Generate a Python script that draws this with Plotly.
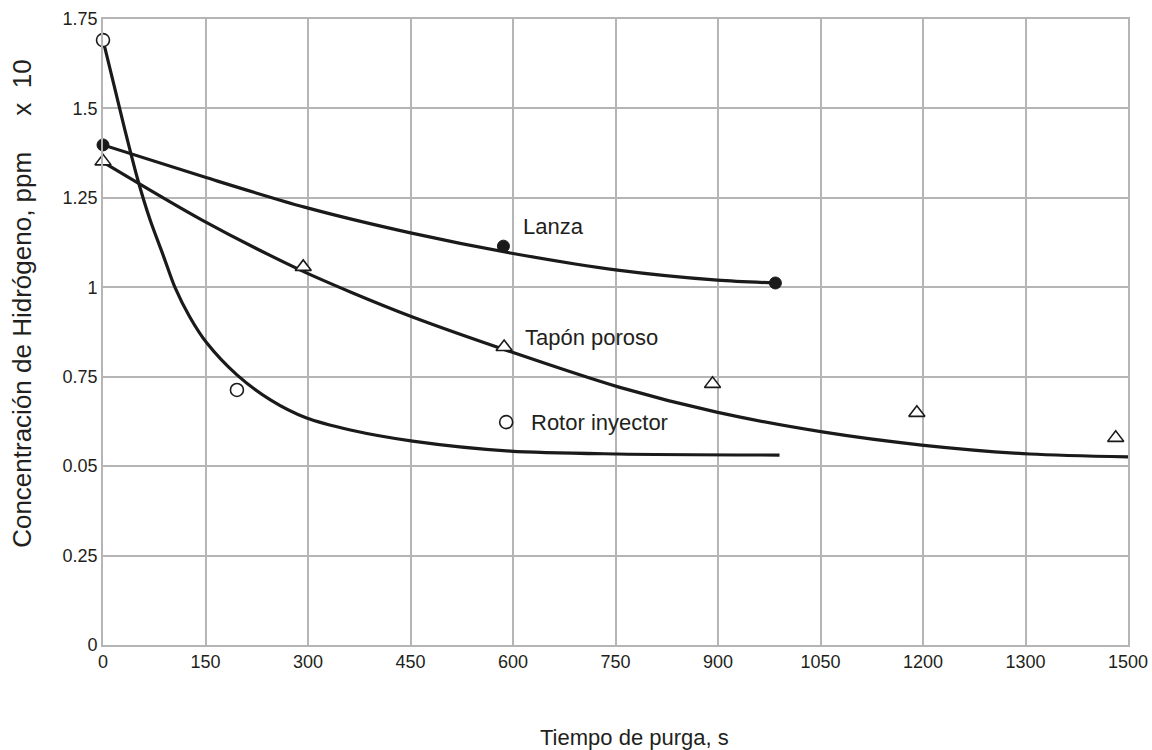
import plotly.graph_objects as go

# ---- data ----
# fitted curves
rotor_curve_x = [0, 16, 32, 51, 69, 88, 105, 127, 152, 196, 245, 297, 362, 453, 596, 753, 990]
rotor_curve_y = [1.691, 1.566, 1.440, 1.300, 1.188, 1.090, 1.001, 0.917, 0.844, 0.755, 0.685, 0.635,
                 0.601, 0.570, 0.542, 0.534, 0.531]

lanza_curve_x = [0, 152, 295, 450, 596, 753, 899, 984]
lanza_curve_y = [1.398, 1.306, 1.224, 1.152, 1.096, 1.048, 1.020, 1.012]

tapon_curve_x = [0, 145, 289, 362, 453, 598, 755, 898, 1055, 1198, 1356, 1500]
tapon_curve_y = [1.350, 1.188, 1.048, 0.987, 0.917, 0.819, 0.721, 0.651, 0.595, 0.559, 0.534, 0.526]

# measured points
rotor_pts_x = [0, 196, 590]
rotor_pts_y = [1.691, 0.713, 0.623]

lanza_pts_x = [0, 586, 984]
lanza_pts_y = [1.398, 1.115, 1.012]

tapon_pts_x = [0, 293, 587, 892, 1191, 1482]
tapon_pts_y = [1.352, 1.057, 0.833, 0.730, 0.649, 0.579]

# axes ticks
x_tickvals = [0, 150, 300, 450, 600, 750, 900, 1050, 1200, 1350, 1500]
x_ticktext = ["0", "150", "300", "450", "600", "750", "900", "1050", "1200", "1300", "1500"]
y_tickvals = [0, 0.25, 0.5, 0.75, 1.0, 1.25, 1.5, 1.75]
y_ticktext = ["0", "0.25", "0.05", "0.75", "1", "1.25", "1.5", "1.75"]

# series labels
labels = ["Lanza", "Tapón poroso", "Rotor inyector"]
label_x = [612, 614, 624]
label_y = [1.169, 0.861, 0.621]

FONT = "Liberation Sans, Arial, sans-serif"
INK = "#231f20"

fig = go.Figure()

line_style = dict(color="#1a1a1a", width=3.2, shape="spline", smoothing=0.8)

for cx, cy in [(rotor_curve_x, rotor_curve_y), (lanza_curve_x, lanza_curve_y), (tapon_curve_x, tapon_curve_y)]:
    fig.add_trace(go.Scatter(x=cx, y=cy, mode="lines", line=line_style,
                             hoverinfo="skip", showlegend=False, cliponaxis=False))

fig.add_trace(go.Scatter(x=tapon_pts_x, y=tapon_pts_y, mode="markers", showlegend=False, cliponaxis=False,
                         marker=dict(symbol="triangle-up", size=14, color="white",
                                     line=dict(color="#1a1a1a", width=1.6))))
fig.add_trace(go.Scatter(x=rotor_pts_x, y=rotor_pts_y, mode="markers", showlegend=False, cliponaxis=False,
                         marker=dict(symbol="circle", size=13, color="white",
                                     line=dict(color="#1a1a1a", width=1.6))))
fig.add_trace(go.Scatter(x=lanza_pts_x, y=lanza_pts_y, mode="markers", showlegend=False, cliponaxis=False,
                         marker=dict(symbol="circle", size=12, color="#1a1a1a",
                                     line=dict(color="#1a1a1a", width=1))))

for t, lx, ly in zip(labels, label_x, label_y):
    fig.add_annotation(x=lx, y=ly, text=t, showarrow=False, xanchor="left", yanchor="middle",
                       font=dict(family=FONT, size=22, color=INK))

axis_common = dict(showgrid=True, gridcolor="#b5b5b8", gridwidth=1.6, zeroline=False,
                   showline=True, linecolor="#b5b5b8", linewidth=1.6, mirror=True,
                   ticks="", tickfont=dict(family=FONT, size=18, color=INK))

fig.update_xaxes(range=[0, 1500], tickmode="array", tickvals=x_tickvals, ticktext=x_ticktext, **axis_common)
fig.update_yaxes(range=[0, 1.75], tickmode="array", tickvals=y_tickvals, ticktext=y_ticktext, **axis_common)

# axis titles as annotations
fig.add_annotation(xref="paper", yref="paper", x=0.519, y=-0.147, xanchor="center", yanchor="middle",
                   text="Tiempo de purga, s", showarrow=False,
                   font=dict(family=FONT, size=22, color=INK))
fig.add_annotation(xref="paper", yref="paper", x=-0.079, y=0.545, xanchor="center", yanchor="middle",
                   textangle=-90,
                   text="Concentración de Hidrógeno, ppm\u00a0\u00a0\u00a0\u00a0\u00a0x\u00a0\u00a010", showarrow=False,
                   font=dict(family=FONT, size=26, color=INK))

fig.update_layout(width=1152, height=750, plot_bgcolor="white", paper_bgcolor="white",
                  margin=dict(l=103, r=24, t=19, b=105, autoexpand=False))

fig.write_html("out.html", post_script="document.body.style.margin='0px';",
               config={"displayModeBar": False})
